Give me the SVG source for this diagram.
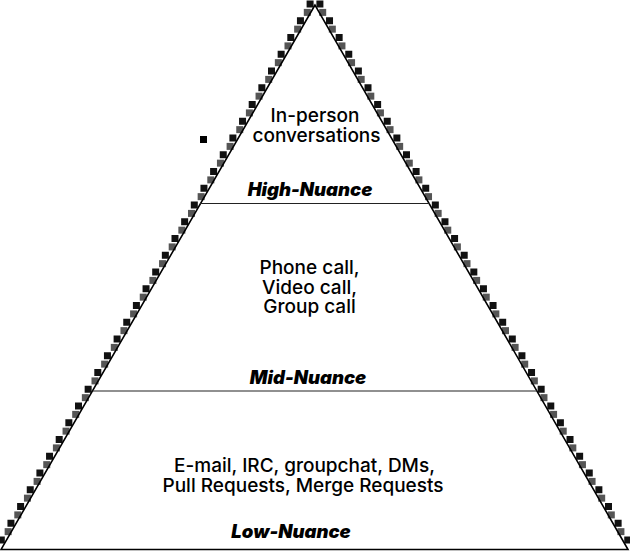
<svg xmlns="http://www.w3.org/2000/svg" width="630" height="551" viewBox="0 0 630 551">
  <style>
    .body { font-family: Inter, "Noto Sans", "Liberation Sans", sans-serif; font-size: 19px; font-weight: 500; fill: #000; text-anchor: middle; }
    .tier { font-family: Inter, "Noto Sans", "Liberation Sans", sans-serif; font-size: 18.5px; font-weight: 900; font-style: italic; fill: #000; text-anchor: middle; }
    .edge { fill: none; stroke: #000; stroke-width: 1.6; }
    .divider { stroke: #222; stroke-width: 1.2; }
    .steps { fill: none; stroke: none; }
  </style>
  <defs>
    <marker id="stepL" markerUnits="userSpaceOnUse" markerWidth="20" markerHeight="20" refX="0" refY="0" overflow="visible">
      <rect x="-9" y="-3.5" width="7" height="7" fill="#111"/>
    </marker>
    <marker id="stepL2" markerUnits="userSpaceOnUse" markerWidth="20" markerHeight="20" refX="0" refY="0" overflow="visible">
      <rect x="-7" y="-3.5" width="7" height="7" fill="#555"/>
    </marker>
    <marker id="stepR" markerUnits="userSpaceOnUse" markerWidth="20" markerHeight="20" refX="0" refY="0" overflow="visible">
      <rect x="2" y="-3.5" width="7" height="7" fill="#111"/>
    </marker>
    <marker id="stepR2" markerUnits="userSpaceOnUse" markerWidth="20" markerHeight="20" refX="0" refY="0" overflow="visible">
      <rect x="0" y="-3.5" width="7" height="7" fill="#555"/>
    </marker>
  </defs>
  <rect width="630" height="551" fill="#fff"/>

  <g id="pyramid-shadow">
    <path class="steps" marker-start="url(#stepL2)" marker-mid="url(#stepL2)" marker-end="url(#stepL2)"
      d="M310.8 12.4 l-9.65 16.75 l-9.65 16.75 l-9.65 16.75 l-9.65 16.75 l-9.65 16.75 l-9.65 16.75 l-9.65 16.75 l-9.65 16.75 l-9.65 16.75 l-9.65 16.75 l-9.65 16.75 l-9.65 16.75 l-9.65 16.75 l-9.65 16.75 l-9.65 16.75 l-9.65 16.75 l-9.65 16.75 l-9.65 16.75 l-9.65 16.75 l-9.65 16.75 l-9.65 16.75 l-9.65 16.75 l-9.65 16.75 l-9.65 16.75 l-9.65 16.75 l-9.65 16.75 l-9.65 16.75 l-9.65 16.75 l-9.65 16.75 l-9.65 16.75 l-9.65 16.75"/>
    <path class="steps" marker-start="url(#stepL)" marker-mid="url(#stepL)" marker-end="url(#stepL)"
      d="M315.6 4 l-9.65 16.75 l-9.65 16.75 l-9.65 16.75 l-9.65 16.75 l-9.65 16.75 l-9.65 16.75 l-9.65 16.75 l-9.65 16.75 l-9.65 16.75 l-9.65 16.75 l-9.65 16.75 l-9.65 16.75 l-9.65 16.75 l-9.65 16.75 l-9.65 16.75 l-9.65 16.75 l-9.65 16.75 l-9.65 16.75 l-9.65 16.75 l-9.65 16.75 l-9.65 16.75 l-9.65 16.75 l-9.65 16.75 l-9.65 16.75 l-9.65 16.75 l-9.65 16.75 l-9.65 16.75 l-9.65 16.75 l-9.65 16.75 l-9.65 16.75 l-9.65 16.75 l-9.65 16.75"/>
    <path class="steps" marker-start="url(#stepR2)" marker-mid="url(#stepR2)" marker-end="url(#stepR2)"
      d="M319.2 12.4 l9.62 16.75 l9.62 16.75 l9.62 16.75 l9.62 16.75 l9.62 16.75 l9.62 16.75 l9.62 16.75 l9.62 16.75 l9.62 16.75 l9.62 16.75 l9.62 16.75 l9.62 16.75 l9.62 16.75 l9.62 16.75 l9.62 16.75 l9.62 16.75 l9.62 16.75 l9.62 16.75 l9.62 16.75 l9.62 16.75 l9.62 16.75 l9.62 16.75 l9.62 16.75 l9.62 16.75 l9.62 16.75 l9.62 16.75 l9.62 16.75 l9.62 16.75 l9.62 16.75 l9.62 16.75 l9.62 16.75"/>
    <path class="steps" marker-start="url(#stepR)" marker-mid="url(#stepR)" marker-end="url(#stepR)"
      d="M314.4 4 l9.62 16.75 l9.62 16.75 l9.62 16.75 l9.62 16.75 l9.62 16.75 l9.62 16.75 l9.62 16.75 l9.62 16.75 l9.62 16.75 l9.62 16.75 l9.62 16.75 l9.62 16.75 l9.62 16.75 l9.62 16.75 l9.62 16.75 l9.62 16.75 l9.62 16.75 l9.62 16.75 l9.62 16.75 l9.62 16.75 l9.62 16.75 l9.62 16.75 l9.62 16.75 l9.62 16.75 l9.62 16.75 l9.62 16.75 l9.62 16.75 l9.62 16.75 l9.62 16.75 l9.62 16.75 l9.62 16.75 l9.62 16.75"/>
    <rect x="200" y="136" width="7" height="7" fill="#000"/>
  </g>

  <g id="pyramid-outline">
    <polygon class="edge" points="315,5 1,549.5 628,549.5"/>
  </g>

  <g id="connectors">
    <line class="divider" x1="200" y1="203.5" x2="430" y2="203.5"/>
    <line class="divider" x1="92.5" y1="391" x2="537" y2="391"/>
  </g>

  <g id="tier-high">
    <text class="body" x="315" y="122">In-person</text>
    <text class="body" x="316.5" y="141.5">conversations</text>
    <text class="tier" x="310" y="196">High-Nuance</text>
  </g>

  <g id="tier-mid">
    <text class="body" x="309.5" y="274">Phone call,</text>
    <text class="body" x="309.5" y="293.5">Video call,</text>
    <text class="body" x="309.5" y="313">Group call</text>
    <text class="tier" x="308" y="383.5">Mid-Nuance</text>
  </g>

  <g id="tier-low">
    <text class="body" x="304.5" y="472">E-mail, IRC, groupchat, DMs,</text>
    <text class="body" x="303" y="492">Pull Requests, Merge Requests</text>
    <text class="tier" x="291" y="538">Low-Nuance</text>
  </g>
</svg>
